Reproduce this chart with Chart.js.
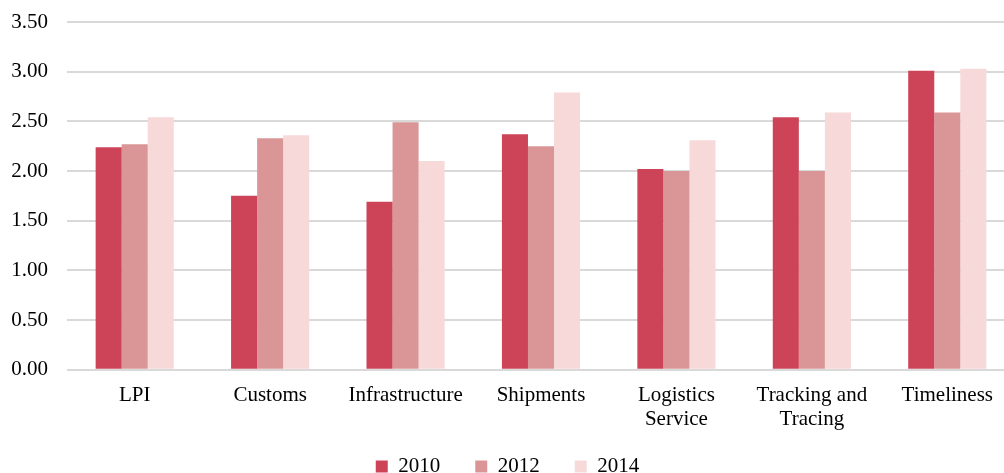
<!DOCTYPE html>
<html>
<head>
<meta charset="utf-8">
<script src="https://cdn.jsdelivr.net/npm/chart.js@4"></script>
<style>
  html, body { margin: 0; padding: 0; background: #fff; overflow: hidden; }
  #wrap { width: 1015px; height: 473px; }
</style>
</head>
<body>
<div id="wrap"><canvas id="chart"></canvas></div>
<script>
// LPI component scores by year
const categories = ['LPI', 'Customs', 'Infrastructure', 'Shipments', ['Logistics', 'Service'], ['Tracking and', 'Tracing'], 'Timeliness'];
const years = ['2010', '2012', '2014'];
const scores2010 = [2.24, 1.75, 1.69, 2.37, 2.02, 2.54, 3.01];
const scores2012 = [2.27, 2.33, 2.49, 2.25, 2.00, 2.00, 2.59];
const scores2014 = [2.54, 2.36, 2.10, 2.79, 2.31, 2.59, 3.03];
const colors = ['#cd4358', '#da9696', '#f7d9da'];

Chart.defaults.font.family = '"Liberation Serif", "Times New Roman", serif';
Chart.defaults.font.size = 21;
Chart.defaults.color = '#000';

// the legend's label padding also adds space above it; pull it up under the axis labels
const legendTop = {
    id: 'legendTop',
    afterLayout(chart) {
        const lg = chart.legend;
        const h = lg.bottom - lg.top;
        lg.top = 421;
        lg.bottom = lg.top + h;
    }
};

const ctx = document.getElementById('chart').getContext('2d');
new Chart(ctx, {
    type: 'bar',
    data: {
        labels: categories,
        datasets: [scores2010, scores2012, scores2014].map((vals, i) => ({
            label: years[i],
            data: vals,
            backgroundColor: colors[i],
            borderWidth: 0
        }))
    },
    plugins: [legendTop],
    options: {
        responsive: true,
        maintainAspectRatio: false,
        animation: false,
        datasets: {
            bar: { categoryPercentage: 0.577, barPercentage: 1 }
        },
        layout: { padding: { top: 22, right: 0, left: 0, bottom: -39 } },
        plugins: {
            tooltip: { enabled: false },
            legend: {
                position: 'bottom',
                labels: {
                    boxWidth: 12,
                    boxHeight: 12,
                    padding: 35
                }
            }
        },
        scales: {
            x: {
                grid: { display: false, drawTicks: false },
                border: { display: false },
                ticks: {
                    maxRotation: 0,
                    autoSkip: false,
                    padding: 14,
                    font: { lineHeight: 1.15 }
                }
            },
            y: {
                min: 0,
                max: 3.5,
                grid: { color: '#d9d9d9', lineWidth: 2, drawTicks: false },
                border: { display: false },
                ticks: {
                    stepSize: 0.5,
                    padding: 19,
                    callback: v => v.toFixed(2)
                },
                afterFit: scale => {
                    scale.width = 67;
                    scale.paddingTop = 0;
                    scale.paddingBottom = 0;
                }
            }
        }
    }
});
</script>
</body>
</html>
